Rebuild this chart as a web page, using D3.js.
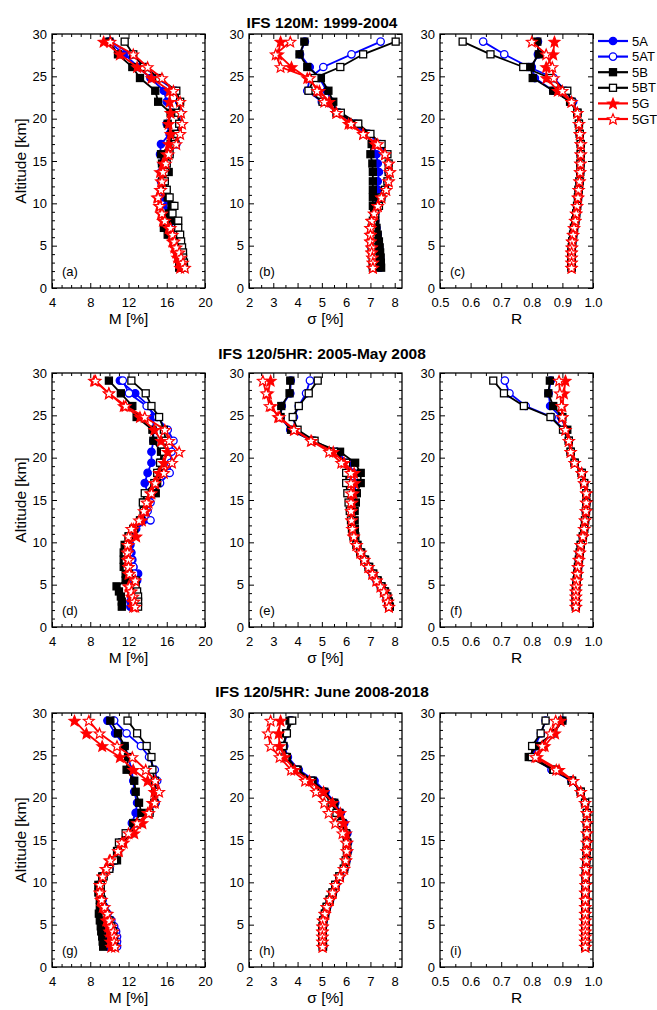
<!DOCTYPE html>
<html><head><meta charset="utf-8">
<script src="https://cdn.jsdelivr.net/npm/d3@7/dist/d3.min.js"></script>
<style>body{margin:0;background:#fff}text{font-family:Arial,"Liberation Sans",sans-serif}</style>
</head><body><svg id="chart" width="657" height="1010"></svg>
<script>
// ---------------- DATA ----------------
const ALT = [29.1, 27.6, 26.1, 24.8, 23.3, 22.0, 20.7, 19.4, 18.2, 17.0, 15.8, 14.7, 13.7, 12.6, 11.6, 10.7, 9.7, 8.8, 7.95, 7.1, 6.3, 5.5, 4.8, 4.2, 3.6, 3.0, 2.4];
const SERIES = ['5A', '5AT', '5B', '5BT', '5G', '5GT'];
const TITLES = ['IFS 120M: 1999-2004', 'IFS 120/5HR: 2005-May 2008', 'IFS 120/5HR: June 2008-2018'];
const XLABELS = ['M [%]', 'σ [%]', 'R'];
const YLABEL = 'Altitude [km]';
const PANEL_LETTERS = ['(a)','(b)','(c)','(d)','(e)','(f)','(g)','(h)','(i)'];
const M_TICKS = [4, 8, 12, 16, 20];
const S_TICKS = [2, 3, 4, 5, 6, 7, 8];
const R_TICKS = [0.5, 0.6, 0.7, 0.8, 0.9, 1.0];
const ALT_TICKS = [0, 5, 10, 15, 20, 25, 30];

// (a) M, 1999-2004
const a_5A  = [9.9, 11.6, 13.0, 14.3, 15.7, 16.0, 16.6, 16.0, 16.3, 15.4, 15.3, 15.5, 15.4, 15.4, 15.5, 15.7, 16.0, 16.2, 16.5, 16.5, 16.6, 16.9, 17.0, 17.1, 17.2, 17.3, 17.4];
const a_5AT = [10.1, 12.3, 13.8, 15.0, 16.9, 17.3, 17.4, 17.3, 17.1, 17.0, 16.3, 16.0, 15.8, 15.7, 15.9, 16.2, 16.4, 16.5, 16.7, 16.9, 17.1, 17.3, 17.4, 17.5, 17.6, 17.7, 17.7];
const a_5B  = [10.0, 10.9, 12.4, 13.2, 14.8, 15.1, 16.4, 16.1, 16.5, 16.4, 15.4, 15.5, 16.2, 15.5, 15.8, 16.1, 16.5, 16.2, 16.4, 15.7, 16.1, 17.0, 17.2, 17.3, 17.3, 17.3, 17.3];
const a_5BT = [11.6, 12.5, 13.6, 15.2, 17.0, 17.4, 17.2, 17.3, 17.1, 16.9, 16.3, 16.0, 15.8, 15.8, 16.0, 16.3, 16.8, 16.6, 17.2, 17.2, 17.4, 17.5, 17.6, 17.7, 17.7, 17.8, 17.8];
const a_5G  = [9.4, 11.1, 12.9, 14.4, 16.3, 16.3, 16.4, 16.2, 16.4, 16.2, 16.0, 15.6, 15.3, 15.4, 15.3, 15.0, 15.2, 15.4, 15.6, 16.2, 16.5, 16.6, 16.8, 17.0, 17.1, 17.3, 17.4];
const a_5GT = [10.1, 12.5, 14.0, 15.5, 16.7, 17.4, 17.5, 17.6, 17.4, 17.0, 16.2, 15.9, 15.6, 15.5, 15.4, 15.1, 15.3, 15.5, 15.8, 16.4, 16.6, 16.8, 17.0, 17.3, 17.5, 17.7, 17.9];
// (b) sigma, 1999-2004
const b_5A  = [4.3, 4.1, 4.5, 4.9, 5.2, 5.4, 5.7, 6.3, 6.8, 7.1, 7.25, 7.3, 7.35, 7.3, 7.3, 7.25, 7.2, 7.15, 7.2, 7.25, 7.3, 7.33, 7.36, 7.38, 7.4, 7.4, 7.4];
const b_5AT = [7.42, 6.22, 5.06, 4.5, 4.4, 5.0, 5.7, 6.4, 6.9, 7.4, 7.65, 7.75, 7.75, 7.7, 7.6, 7.45, 7.3, 7.2, 7.1, 7.05, 7.05, 7.05, 7.05, 7.08, 7.1, 7.1, 7.1];
const b_5B  = [4.28, 4.08, 4.4, 4.96, 5.27, 5.47, 5.6, 6.47, 6.84, 7.05, 7.0, 7.08, 7.1, 7.1, 7.1, 7.1, 7.1, 7.15, 7.2, 7.25, 7.3, 7.35, 7.38, 7.4, 7.42, 7.43, 7.44];
const b_5BT = [8.04, 6.7, 5.76, 4.7, 4.45, 5.03, 5.78, 6.5, 7.0, 7.46, 7.7, 7.75, 7.75, 7.7, 7.6, 7.45, 7.35, 7.2, 7.1, 7.05, 7.05, 7.05, 7.05, 7.08, 7.1, 7.1, 7.1];
const b_5G  = [3.3, 3.2, 3.75, 4.4, 4.9, 5.3, 5.6, 6.1, 6.7, 7.2, 7.6, 7.75, 7.8, 7.75, 7.65, 7.45, 7.3, 7.15, 7.05, 7.0, 7.0, 7.0, 7.05, 7.05, 7.08, 7.1, 7.1];
const b_5GT = [3.7, 3.1, 3.3, 4.5, 4.8, 5.1, 5.6, 6.2, 6.7, 7.3, 7.6, 7.75, 7.8, 7.75, 7.65, 7.45, 7.3, 7.15, 7.05, 7.0, 7.0, 7.0, 7.05, 7.05, 7.08, 7.1, 7.1];
// (c) R, 1999-2004
const c_5A  = [0.82, 0.82, 0.80, 0.81, 0.87, 0.93, 0.949, 0.954, 0.957, 0.96, 0.96, 0.959, 0.958, 0.956, 0.953, 0.951, 0.948, 0.945, 0.942, 0.938, 0.935, 0.932, 0.931, 0.93, 0.93, 0.93, 0.93];
const c_5AT = [0.641, 0.71, 0.79, 0.872, 0.91, 0.935, 0.949, 0.954, 0.957, 0.96, 0.96, 0.959, 0.958, 0.956, 0.953, 0.951, 0.948, 0.945, 0.942, 0.938, 0.935, 0.932, 0.931, 0.93, 0.93, 0.93, 0.93];
const c_5B  = [0.818, 0.823, 0.796, 0.803, 0.87, 0.925, 0.949, 0.954, 0.957, 0.96, 0.96, 0.959, 0.958, 0.956, 0.953, 0.951, 0.948, 0.945, 0.942, 0.938, 0.935, 0.932, 0.931, 0.93, 0.93, 0.93, 0.93];
const c_5BT = [0.574, 0.665, 0.772, 0.86, 0.916, 0.93, 0.949, 0.954, 0.957, 0.96, 0.96, 0.959, 0.958, 0.956, 0.953, 0.951, 0.948, 0.945, 0.942, 0.938, 0.935, 0.932, 0.931, 0.93, 0.93, 0.93, 0.93];
const c_5G  = [0.874, 0.87, 0.847, 0.848, 0.885, 0.93, 0.949, 0.954, 0.957, 0.96, 0.96, 0.959, 0.958, 0.956, 0.953, 0.951, 0.948, 0.945, 0.942, 0.938, 0.935, 0.932, 0.931, 0.93, 0.93, 0.93, 0.93];
const c_5GT = [0.80, 0.847, 0.867, 0.872, 0.90, 0.93, 0.949, 0.954, 0.957, 0.96, 0.96, 0.959, 0.958, 0.956, 0.953, 0.951, 0.948, 0.945, 0.942, 0.938, 0.935, 0.932, 0.931, 0.93, 0.93, 0.93, 0.93];
// (d) M, 2005-May 2008
const d_5A  = [11.1, 12.7, 14.15, 14.6, 14.6, 14.6, 14.4, 14.4, 14.0, 13.7, 14.0, 14.0, 13.9, 13.5, 12.8, 12.3, 12.2, 12.3, 12.4, 12.5, 13.0, 12.9, 12.4, 12.3, 12.3, 12.2, 12.2];
const d_5AT = [11.4, 12.05, 13.9, 15.0, 16.1, 16.7, 16.5, 16.4, 16.3, 15.3, 14.6, 14.3, 14.0, 14.3, 12.7, 12.2, 12.0, 12.1, 12.3, 12.5, 12.6, 12.6, 12.3, 12.4, 12.4, 12.5, 12.5];
const d_5B  = [9.95, 11.2, 12.4, 12.85, 14.5, 14.6, 15.4, 15.4, 15.3, 15.0, 14.85, 13.6, 13.6, 13.2, 12.5, 12.0, 11.6, 11.5, 11.5, 11.5, 11.7, 11.7, 10.75, 11.0, 11.2, 11.3, 11.3];
const d_5BT = [12.3, 13.8, 14.4, 15.2, 15.7, 15.9, 15.7, 15.3, 15.0, 14.7, 13.7, 13.5, 13.6, 13.3, 12.6, 12.05, 11.9, 11.7, 11.7, 11.8, 12.05, 12.75, 12.75, 12.9, 13.0, 13.0, 13.0];
const d_5G  = [8.4, 9.95, 11.5, 13.2, 14.7, 15.4, 16.1, 15.7, 15.2, 14.7, 14.3, 14.1, 13.8, 13.4, 12.5, 12.8, 12.0, 11.9, 11.9, 12.0, 12.0, 12.7, 12.0, 12.2, 12.3, 12.4, 12.5];
const d_5GT = [8.55, 9.95, 11.7, 13.7, 15.8, 16.25, 17.3, 16.55, 15.7, 14.8, 14.4, 13.9, 13.6, 13.1, 12.3, 12.0, 11.9, 11.9, 12.0, 12.0, 12.1, 12.7, 12.1, 12.3, 12.5, 12.6, 12.7];
// (e) sigma, 2005-May 2008
const e_5A  = [3.72, 3.7, 3.35, 3.3, 3.7, 4.6, 5.6, 6.1, 6.3, 6.4, 6.35, 6.3, 6.28, 6.27, 6.3, 6.35, 6.45, 6.6, 6.77, 6.94, 7.1, 7.28, 7.44, 7.58, 7.68, 7.74, 7.78];
const e_5AT = [4.51, 4.35, 4.05, 3.85, 3.9, 4.65, 5.5, 6.0, 6.15, 6.2, 6.2, 6.2, 6.2, 6.22, 6.26, 6.32, 6.43, 6.6, 6.75, 6.92, 7.08, 7.25, 7.42, 7.56, 7.66, 7.72, 7.76];
const e_5B  = [3.7, 3.67, 3.33, 3.3, 3.73, 4.6, 5.75, 6.37, 6.6, 6.6, 6.44, 6.4, 6.35, 6.35, 6.36, 6.38, 6.47, 6.62, 6.78, 6.95, 7.12, 7.3, 7.46, 7.6, 7.7, 7.76, 7.8];
const e_5BT = [4.83, 4.46, 4.05, 3.8, 4.0, 4.7, 5.5, 6.0, 6.0, 6.0, 6.05, 6.1, 6.15, 6.2, 6.24, 6.3, 6.42, 6.58, 6.75, 6.92, 7.1, 7.27, 7.43, 7.57, 7.67, 7.73, 7.77];
const e_5G  = [2.89, 2.78, 2.92, 3.2, 3.87, 4.58, 5.47, 5.92, 6.33, 6.35, 6.3, 6.25, 6.22, 6.22, 6.25, 6.3, 6.42, 6.58, 6.74, 6.92, 7.08, 7.25, 7.42, 7.56, 7.65, 7.72, 7.76];
const e_5GT = [2.57, 2.71, 2.85, 3.26, 3.85, 4.55, 5.3, 5.8, 6.19, 6.2, 6.2, 6.2, 6.2, 6.22, 6.26, 6.32, 6.44, 6.6, 6.75, 6.92, 7.08, 7.25, 7.42, 7.55, 7.65, 7.72, 7.76];
// (f) R, 2005-May 2008
const f_5A  = [0.862, 0.855, 0.86, 0.895, 0.912, 0.921, 0.927, 0.94, 0.963, 0.971, 0.978, 0.978, 0.977, 0.974, 0.971, 0.967, 0.96, 0.957, 0.954, 0.951, 0.949, 0.947, 0.945, 0.944, 0.944, 0.944, 0.944];
const f_5AT = [0.712, 0.727, 0.78, 0.865, 0.905, 0.921, 0.927, 0.94, 0.963, 0.971, 0.978, 0.978, 0.977, 0.974, 0.971, 0.967, 0.96, 0.957, 0.954, 0.951, 0.949, 0.947, 0.945, 0.944, 0.944, 0.944, 0.944];
const f_5B  = [0.859, 0.854, 0.87, 0.9, 0.916, 0.921, 0.927, 0.94, 0.963, 0.971, 0.978, 0.978, 0.977, 0.974, 0.971, 0.967, 0.96, 0.957, 0.954, 0.951, 0.949, 0.947, 0.945, 0.944, 0.944, 0.944, 0.944];
const f_5BT = [0.674, 0.709, 0.774, 0.861, 0.902, 0.921, 0.927, 0.94, 0.963, 0.971, 0.978, 0.978, 0.977, 0.974, 0.971, 0.967, 0.96, 0.957, 0.954, 0.951, 0.949, 0.947, 0.945, 0.944, 0.944, 0.944, 0.944];
const f_5G  = [0.91, 0.905, 0.9, 0.9, 0.91, 0.921, 0.927, 0.94, 0.963, 0.971, 0.978, 0.978, 0.977, 0.974, 0.971, 0.967, 0.96, 0.957, 0.954, 0.951, 0.949, 0.947, 0.945, 0.944, 0.944, 0.944, 0.944];
const f_5GT = [0.889, 0.892, 0.897, 0.9, 0.91, 0.921, 0.927, 0.94, 0.963, 0.971, 0.978, 0.978, 0.977, 0.974, 0.971, 0.967, 0.96, 0.957, 0.954, 0.951, 0.949, 0.947, 0.945, 0.944, 0.944, 0.944, 0.944];
// (g) M, June 2008-2018
const g_5A  = [9.8, 10.6, 11.6, 12.0, 12.3, 12.5, 12.6, 12.9, 12.75, 12.35, 12.1, 11.4, 10.9, 10.6, 10.0, 9.3, 9.0, 9.0, 9.1, 9.2, 9.4, 9.6, 9.8, 9.8, 9.9, 9.9, 9.9];
const g_5AT = [10.5, 11.8, 13.3, 14.15, 14.75, 15.0, 15.0, 14.85, 14.2, 13.0, 11.9, 11.1, 10.9, 10.5, 10.0, 9.4, 9.1, 9.1, 9.3, 9.5, 9.8, 10.2, 10.5, 10.7, 10.8, 10.8, 10.8];
const g_5B  = [10.1, 10.9, 11.6, 11.95, 11.8, 12.6, 12.75, 13.1, 13.35, 12.5, 12.2, 11.35, 10.8, 10.8, 9.9, 9.25, 8.85, 8.85, 9.0, 9.0, 8.9, 9.0, 9.1, 9.15, 9.25, 9.3, 9.35];
const g_5BT = [11.9, 12.9, 13.9, 14.4, 14.5, 14.75, 14.8, 14.7, 14.2, 13.2, 11.7, 11.0, 10.9, 10.5, 10.0, 9.4, 9.1, 9.1, 9.2, 9.3, 9.6, 10.0, 10.2, 10.4, 10.4, 10.5, 10.5];
const g_5G  = [6.35, 7.6, 9.25, 11.1, 12.5, 14.0, 14.7, 14.5, 14.0, 13.45, 12.6, 11.5, 11.0, 10.0, 9.6, 9.3, 9.0, 9.0, 9.1, 9.3, 9.7, 9.7, 9.9, 10.0, 10.1, 10.1, 10.2];
const g_5GT = [7.85, 8.97, 10.8, 12.4, 13.8, 14.8, 15.2, 14.75, 14.15, 12.9, 12.0, 11.3, 10.9, 10.1, 9.7, 9.3, 9.0, 9.0, 9.2, 9.5, 9.8, 10.0, 10.2, 10.4, 10.5, 10.5, 10.6];
// (h) sigma, June 2008-2018
const h_5A  = [3.7, 3.55, 3.45, 3.6, 4.05, 4.7, 5.15, 5.55, 5.78, 5.92, 6.05, 6.08, 6.08, 6.02, 5.93, 5.75, 5.58, 5.46, 5.34, 5.22, 5.14, 5.07, 5.05, 5.04, 5.04, 5.04, 5.05];
const h_5AT = [3.72, 3.55, 3.42, 3.52, 3.98, 4.6, 5.05, 5.45, 5.65, 5.85, 6.0, 6.05, 6.05, 6.0, 5.92, 5.74, 5.57, 5.45, 5.33, 5.21, 5.13, 5.06, 5.04, 5.03, 5.03, 5.03, 5.04];
const h_5B  = [3.67, 3.53, 3.42, 3.56, 4.0, 4.62, 5.1, 5.51, 5.72, 5.85, 6.0, 6.05, 6.05, 6.0, 5.92, 5.72, 5.55, 5.44, 5.33, 5.2, 5.14, 5.06, 5.04, 5.03, 5.03, 5.03, 5.05];
const h_5BT = [3.78, 3.56, 3.4, 3.5, 3.95, 4.55, 5.0, 5.4, 5.6, 5.8, 5.98, 6.03, 6.03, 5.98, 5.9, 5.72, 5.55, 5.44, 5.32, 5.2, 5.12, 5.05, 5.03, 5.02, 5.02, 5.02, 5.03];
const h_5G  = [3.3, 3.22, 3.26, 3.46, 3.87, 4.49, 5.07, 5.44, 5.76, 5.9, 6.0, 6.05, 6.05, 6.0, 5.92, 5.75, 5.58, 5.45, 5.33, 5.2, 5.12, 5.05, 5.03, 5.03, 5.03, 5.03, 5.03];
const h_5GT = [2.89, 2.78, 2.89, 3.26, 3.73, 4.31, 4.76, 5.1, 5.28, 5.55, 5.85, 6.0, 6.02, 5.98, 5.9, 5.73, 5.56, 5.44, 5.32, 5.2, 5.12, 5.05, 5.03, 5.02, 5.02, 5.02, 5.03];
// (i) R, June 2008-2018
const i_5A  = [0.9, 0.87, 0.82, 0.8, 0.865, 0.93, 0.96, 0.974, 0.98, 0.98, 0.98, 0.98, 0.979, 0.978, 0.977, 0.976, 0.976, 0.975, 0.975, 0.975, 0.975, 0.975, 0.975, 0.975, 0.975, 0.975, 0.975];
const i_5AT = [0.845, 0.83, 0.81, 0.805, 0.865, 0.93, 0.96, 0.974, 0.98, 0.98, 0.98, 0.98, 0.979, 0.978, 0.977, 0.976, 0.976, 0.975, 0.975, 0.975, 0.975, 0.975, 0.975, 0.975, 0.975, 0.975, 0.975];
const i_5B  = [0.9, 0.87, 0.815, 0.79, 0.87, 0.93, 0.96, 0.974, 0.98, 0.98, 0.98, 0.98, 0.979, 0.978, 0.977, 0.976, 0.976, 0.975, 0.975, 0.975, 0.975, 0.975, 0.975, 0.975, 0.975, 0.975, 0.975];
const i_5BT = [0.845, 0.829, 0.801, 0.8, 0.872, 0.932, 0.96, 0.974, 0.98, 0.98, 0.98, 0.98, 0.979, 0.978, 0.977, 0.976, 0.976, 0.975, 0.975, 0.975, 0.975, 0.975, 0.975, 0.975, 0.975, 0.975, 0.975];
const i_5G  = [0.894, 0.876, 0.842, 0.818, 0.889, 0.935, 0.96, 0.974, 0.98, 0.98, 0.98, 0.98, 0.979, 0.978, 0.977, 0.976, 0.976, 0.975, 0.975, 0.975, 0.975, 0.975, 0.975, 0.975, 0.975, 0.975, 0.975];
const i_5GT = [0.878, 0.861, 0.834, 0.812, 0.88, 0.935, 0.96, 0.974, 0.98, 0.98, 0.98, 0.98, 0.979, 0.978, 0.977, 0.976, 0.976, 0.975, 0.975, 0.975, 0.975, 0.975, 0.975, 0.975, 0.975, 0.975, 0.975];

// ---------------- LAYOUT / STYLE ----------------
const PANEL_DATA = [
  [a_5A, a_5AT, a_5B, a_5BT, a_5G, a_5GT],
  [b_5A, b_5AT, b_5B, b_5BT, b_5G, b_5GT],
  [c_5A, c_5AT, c_5B, c_5BT, c_5G, c_5GT],
  [d_5A, d_5AT, d_5B, d_5BT, d_5G, d_5GT],
  [e_5A, e_5AT, e_5B, e_5BT, e_5G, e_5GT],
  [f_5A, f_5AT, f_5B, f_5BT, f_5G, f_5GT],
  [g_5A, g_5AT, g_5B, g_5BT, g_5G, g_5GT],
  [h_5A, h_5AT, h_5B, h_5BT, h_5G, h_5GT],
  [i_5A, i_5AT, i_5B, i_5BT, i_5G, i_5GT]
];
const colLeft = [52, 249, 440], colW = 153;
const rowTop = [34, 373, 713], rowH = 254;
const titleY = [28, 359, 697];
const xDomains = [[4, 20], [2, 8.3], [0.5, 1.0]];
const xMajor = [M_TICKS, S_TICKS, R_TICKS];
const xMinorStep = [1, 0.5, 0.05];
const xFmt = [d3.format('d'), d3.format('d'), d3.format('.1f')];
const STY = [
  {color: '#0000ff', shape: 'circle', fill: true},
  {color: '#0000ff', shape: 'circle', fill: false},
  {color: '#000000', shape: 'square', fill: true},
  {color: '#000000', shape: 'square', fill: false},
  {color: '#ff0000', shape: 'star', fill: true},
  {color: '#ff0000', shape: 'star', fill: false}
];

function starPath(R) {
  const r = R * 0.44; let p = '';
  for (let k = 0; k < 10; k++) {
    const a = -Math.PI / 2 + k * Math.PI / 5, rad = k % 2 ? r : R;
    p += (k ? 'L' : 'M') + (rad * Math.cos(a)).toFixed(2) + ',' + (rad * Math.sin(a)).toFixed(2);
  }
  return p + 'Z';
}
function drawMarker(g, s, x, y) {
  const fill = s.fill ? s.color : '#fff';
  if (s.shape === 'circle') {
    g.append('circle').attr('cx', x).attr('cy', y).attr('r', 3.7)
      .attr('fill', fill).attr('stroke', s.color).attr('stroke-width', 1.3);
  } else if (s.shape === 'square') {
    g.append('rect').attr('x', x - 3.5).attr('y', y - 3.5).attr('width', 7).attr('height', 7)
      .attr('fill', fill).attr('stroke', s.color).attr('stroke-width', 1.3);
  } else {
    g.append('path').attr('d', starPath(5.6)).attr('transform', `translate(${x},${y + 0.5})`)
      .attr('fill', fill).attr('stroke', s.color).attr('stroke-width', 1.2).attr('stroke-linejoin', 'miter');
  }
}

const svg = d3.select('#chart');
svg.append('rect').attr('width', 657).attr('height', 1010).attr('fill', '#fff');

for (let row = 0; row < 3; row++) {
  svg.append('text').attr('x', 322).attr('y', titleY[row]).attr('text-anchor', 'middle')
    .attr('font-size', 15.5).attr('font-weight', 'bold').text(TITLES[row]);
  for (let col = 0; col < 3; col++) {
    const idx = row * 3 + col;
    const L = colLeft[col], T = rowTop[row];
    const g = svg.append('g').attr('transform', `translate(${L},${T})`);
    const x = d3.scaleLinear().domain(xDomains[col]).range([0, colW]);
    const y = d3.scaleLinear().domain([0, 30]).range([rowH, 0]);
    const xd = xDomains[col];
    const xMinor = d3.range(xd[0], xd[1] + 1e-9, xMinorStep[col]).filter(v => !xMajor[col].some(m => Math.abs(m - v) < 1e-9));
    const yMinor = d3.range(0, 31, 1).filter(v => v % 5 !== 0);

    const styleAxis = sel => { sel.select('.domain').remove(); sel.selectAll('line').attr('stroke', '#000').attr('stroke-width', 1); sel.attr('font-family', null).attr('font-size', null); sel.selectAll('text').attr('font-size', 13).attr('fill', '#000'); };
    g.append('g').attr('transform', `translate(0,${rowH})`).call(d3.axisBottom(x).tickValues(xMajor[col]).tickFormat(xFmt[col]).tickSize(-5).tickPadding(10)).call(styleAxis);
    g.append('g').attr('transform', `translate(0,${rowH})`).call(d3.axisBottom(x).tickValues(xMinor).tickFormat('').tickSize(-3)).call(styleAxis);
    g.append('g').call(d3.axisTop(x).tickValues(xMajor[col]).tickFormat('').tickSize(-5)).call(styleAxis);
    g.append('g').call(d3.axisTop(x).tickValues(xMinor).tickFormat('').tickSize(-3)).call(styleAxis);
    g.append('g').call(d3.axisLeft(y).tickValues(ALT_TICKS).tickFormat(d3.format('d')).tickSize(-5).tickPadding(5)).call(styleAxis);
    g.append('g').call(d3.axisLeft(y).tickValues(yMinor).tickFormat('').tickSize(-3)).call(styleAxis);
    g.append('g').attr('transform', `translate(${colW},0)`).call(d3.axisRight(y).tickValues(ALT_TICKS).tickFormat('').tickSize(-5)).call(styleAxis);
    g.append('g').attr('transform', `translate(${colW},0)`).call(d3.axisRight(y).tickValues(yMinor).tickFormat('').tickSize(-3)).call(styleAxis);
    g.append('rect').attr('width', colW).attr('height', rowH).attr('fill', 'none').attr('stroke', '#000').attr('stroke-width', 1.3);

    const line = d3.line().x(d => x(d[0])).y(d => y(d[1]));
    PANEL_DATA[idx].forEach((vals, si) => {
      const s = STY[si];
      const pts = vals.map((v, k) => [v, ALT[k]]);
      const sg = g.append('g');
      sg.append('path').attr('d', line(pts)).attr('fill', 'none').attr('stroke', s.color).attr('stroke-width', 1.8);
      pts.forEach(p => drawMarker(sg, s, x(p[0]), y(p[1])));
    });

    g.append('text').attr('x', 10).attr('y', rowH - 12).attr('font-size', 13).text(PANEL_LETTERS[idx]);
    g.append('text').attr('x', colW / 2).attr('y', rowH + 36).attr('text-anchor', 'middle').attr('font-size', 15.5).text(XLABELS[col]);
    if (col === 0) {
      g.append('text').attr('transform', `translate(${26 - L},${rowH / 2}) rotate(-90)`).attr('text-anchor', 'middle')
        .attr('font-size', 15.5).text(YLABEL);
    }
  }
}

const lg = svg.append('g');
SERIES.forEach((name, i) => {
  const yy = 41 + i * 15.6, s = STY[i];
  lg.append('line').attr('x1', 598).attr('x2', 628).attr('y1', yy).attr('y2', yy).attr('stroke', s.color).attr('stroke-width', 2.2);
  drawMarker(lg, s, 613, yy);
  lg.append('text').attr('x', 632).attr('y', yy + 4.6).attr('font-size', 13).text(name);
});
</script></body></html>
